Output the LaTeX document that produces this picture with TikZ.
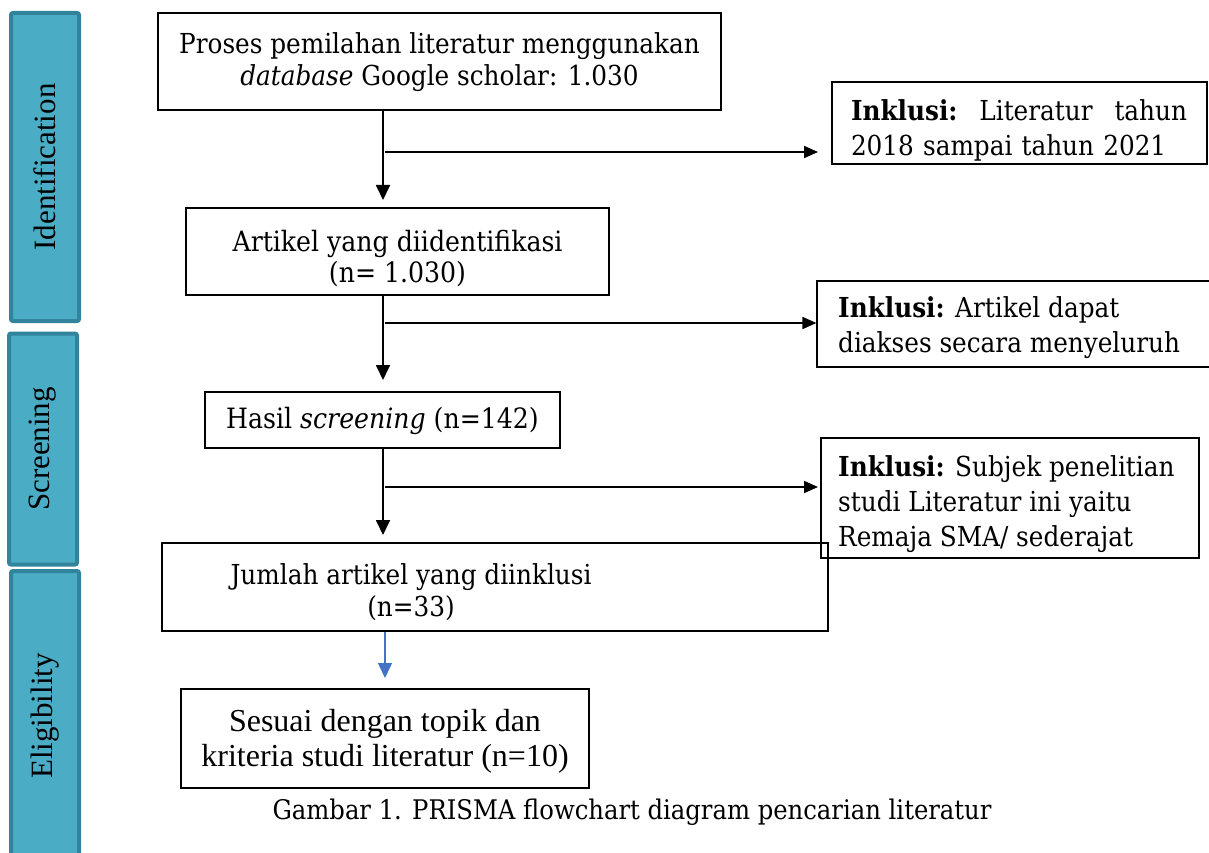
\documentclass[tikz,border=0pt]{standalone}
\usepackage{fontspec}
\setmainfont{Liberation Serif}
\newfontfamily\cam{DejaVu Serif Condensed}
\usetikzlibrary{arrows.meta}
\definecolor{barfill}{RGB}{75,172,198}
\definecolor{barline}{RGB}{49,132,155}
\definecolor{bluearrow}{RGB}{68,114,196}
\tikzset{
  box/.style={draw=black, line width=1.2pt, inner sep=0pt},
  sidebar/.style={draw=barline, fill=barfill, line width=4pt, rounded corners=2pt, inner sep=0pt},
  bartext/.style={rotate=90, font=\fontsize{31}{36}\selectfont},
  flow/.style={line width=1.8pt, -{Triangle[length=15pt,width=14pt]}},
  side/.style={line width=1.8pt, -{Triangle[length=14pt,width=12pt]}},
  bflow/.style={line width=1.4pt, draw=bluearrow, -{Triangle[length=15pt,width=14pt,fill=bluearrow]}},
  txt/.style={font=\cam\fontsize{27.5}{32}\selectfont, align=center, inner sep=0pt},
  inc/.style={font=\cam\fontsize{27.5}{35}\selectfont, align=left, inner sep=0pt},
}
\begin{document}
\begin{tikzpicture}[x=1pt,y=-1pt]
\useasboundingbox (0,0) rectangle (1209,853);
% side bars
\node[sidebar, minimum width=68pt, minimum height=308pt] (bid) at (45,167) {};
\node[bartext] at (bid.center) {Identification};
\node[sidebar, minimum width=68pt, minimum height=231pt] (bsc) at (43,449) {};
\node[bartext] at (bsc.center) {Screening};
\node[sidebar, minimum width=68pt, minimum height=300pt] (bel) at (45,721) {};
\node[bartext] at (45,716) {Eligibility};

% main boxes
\node[box, minimum width=563pt, minimum height=97pt] (b1) at (439.5,61.5) {};
\node[txt] at (439.5,62) {Proses pemilahan literatur menggunakan\\\textit{database} Google scholar: 1.030};

\node[box, minimum width=423pt, minimum height=87pt] (b2) at (397.5,251.5) {};
\node[txt, font=\cam\fontsize{28}{31}\selectfont] at (397.5,259) {Artikel yang diidentifikasi\\(n= 1.030)};

\node[box, minimum width=355pt, minimum height=56pt] (b3) at (382.5,420) {};
\node[txt, font=\cam\fontsize{28}{31}\selectfont] at (382.5,421) {Hasil \textit{screening} (n=142)};

\node[box, minimum width=666pt, minimum height=88pt] (b4) at (495,587) {};
\node[txt] at (411,592) {Jumlah artikel yang diinklusi\\(n=33)};

\node[box, minimum width=408pt, minimum height=99pt] (b5) at (385,738.5) {};
\node[font=\fontsize{32}{35}\selectfont, align=center, inner sep=0pt] at (385,741) {Sesuai dengan topik dan\\kriteria studi literatur (n=10)};

% inclusion boxes
\node[box, minimum width=375pt, minimum height=82pt] (i1) at (1019.5,123) {};
\node[inc, text width=336pt] at (1019,130) {\textbf{Inklusi:}\hfill Literatur\hfill tahun\\2018 sampai tahun 2021};

\node[box, minimum width=400pt, minimum height=86pt] (i2) at (1017,324) {};
\node[inc, anchor=west] at (838,328) {\textbf{Inklusi:} Artikel dapat\\diakses secara menyeluruh};

\node[box, minimum width=378pt, minimum height=120pt] (i3) at (1010,498) {};
\node[inc, anchor=west] at (838,504) {\textbf{Inklusi:} Subjek penelitian\\studi Literatur ini yaitu\\Remaja SMA/ sederajat};

% connectors
\coordinate (t1) at (383,200);
\coordinate (t2) at (383,380);
\coordinate (t3) at (383,535);
\coordinate (h1) at (385,152);
\coordinate (h2) at (385,323);
\coordinate (h3) at (385,487);
\coordinate (e1) at (818,152);
\coordinate (e3) at (818,487);
\draw[flow] (b1.south -| t1) -- (t1);
\draw[flow] (b2.south -| t2) -- (t2);
\draw[flow] (b3.south -| t3) -- (t3);
\draw[side] (h1) -- (e1);
\draw[side] (h2) -- (i2.west |- h2);
\draw[side] (h3) -- (e3);
\coordinate (t4) at (385,678);
\draw[bflow] (b4.south -| t4) -- (t4);

\node[font=\cam\fontsize{27}{30}\selectfont, inner sep=0pt] (cap) at (632,812) {Gambar 1. PRISMA flowchart diagram pencarian literatur};
\end{tikzpicture}
\end{document}
